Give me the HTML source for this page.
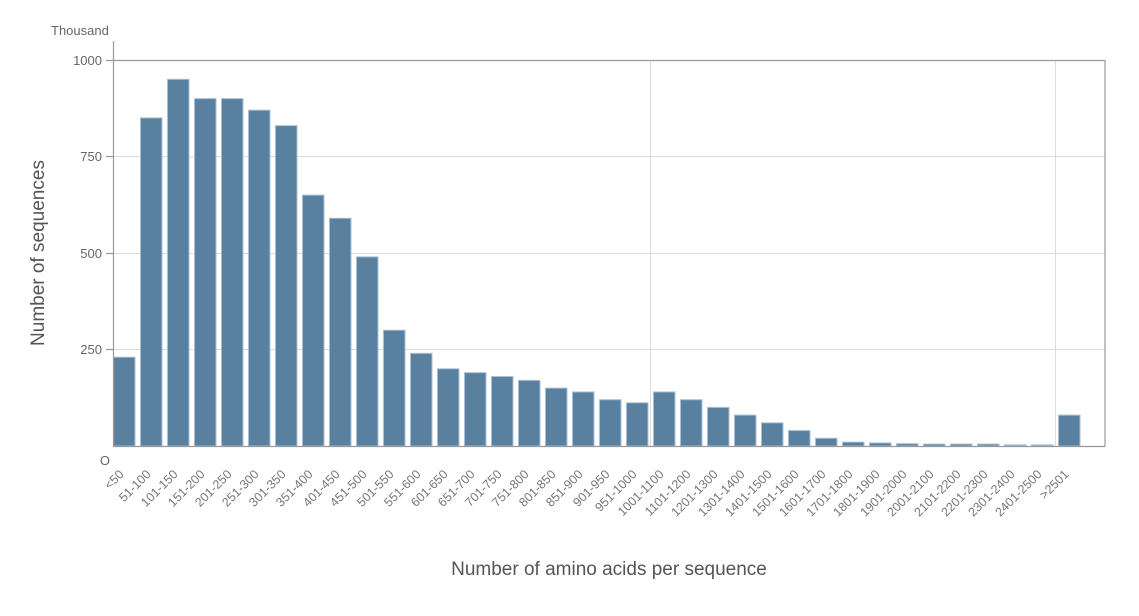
<!DOCTYPE html>
<html><head><meta charset="utf-8"><style>
html,body{margin:0;padding:0;background:#fff;}
svg text{font-family:"Liberation Sans",sans-serif;}
</style></head><body>
<svg width="1139" height="611" viewBox="0 0 1139 611" xmlns="http://www.w3.org/2000/svg">
<g stroke="#dcdcdc" stroke-width="1">
<line x1="113" y1="156.5" x2="1105" y2="156.5"/>
<line x1="113" y1="253.5" x2="1105" y2="253.5"/>
<line x1="113" y1="349.5" x2="1105" y2="349.5"/>
<line x1="650.5" y1="60" x2="650.5" y2="446"/>
<line x1="1055.5" y1="60" x2="1055.5" y2="446"/>
</g>
<g id="bars" fill="#5a80a0" stroke="#a9c0d4" stroke-width="1"></g>
<g stroke="#999" stroke-width="1.2" fill="none">
<line x1="113.5" y1="41" x2="113.5" y2="446"/>
<line x1="113" y1="60.5" x2="1105" y2="60.5"/>
<line x1="1105" y1="60" x2="1105" y2="446.5"/>
<line x1="113" y1="446.5" x2="1105" y2="446.5"/>
<line x1="106" y1="60.5" x2="113" y2="60.5"/>
<line x1="106" y1="156.5" x2="113" y2="156.5"/>
<line x1="106" y1="253.5" x2="113" y2="253.5"/>
<line x1="106" y1="349.5" x2="113" y2="349.5"/>
</g>
<g fill="#666" font-size="13" text-anchor="end">
<text x="102" y="65">1000</text>
<text x="102" y="161">750</text>
<text x="102" y="258">500</text>
<text x="102" y="354">250</text>
<text x="110" y="465">O</text>
</g>
<text x="51" y="35" fill="#666" font-size="13">Thousand</text>
<text transform="translate(44,253) rotate(-90)" fill="#555" font-size="19" text-anchor="middle">Number of sequences</text>
<text x="609" y="575" fill="#555" font-size="19" text-anchor="middle">Number of amino acids per sequence</text>
<g id="labels" fill="#777" font-size="12.5" text-anchor="end"></g>
</svg>
<script>
var vals=[230,850,950,900,900,870,830,650,590,490,300,240,200,190,180,170,150,140,120,112,140,120,100,80,60,40,20,10,8,6,5,5,5,3,3,80];
var labs=["<50","51-100","101-150","151-200","201-250","251-300","301-350","351-400","401-450","451-500","501-550","551-600","601-650","651-700","701-750","751-800","801-850","851-900","901-950","951-1000","1001-1100","1101-1200","1201-1300","1301-1400","1401-1500","1501-1600","1601-1700","1701-1800","1801-1900","1901-2000","2001-2100","2101-2200","2201-2300","2301-2400","2401-2500",">2501"];
var ns="http://www.w3.org/2000/svg",b=document.getElementById("bars"),l=document.getElementById("labels");
for(var i=0;i<36;i++){var x=113.5+i*27,h=vals[i]*0.386;
var r=document.createElementNS(ns,"rect");r.setAttribute("x",x);r.setAttribute("y",446-h);r.setAttribute("width",21.5);r.setAttribute("height",h);b.appendChild(r);
var t=document.createElementNS(ns,"text");var cx=x+11,cy=475;t.setAttribute("x",cx);t.setAttribute("y",cy);t.setAttribute("transform","rotate(-45 "+cx+" "+cy+")");t.textContent=labs[i];l.appendChild(t);}
</script>
</body></html>
